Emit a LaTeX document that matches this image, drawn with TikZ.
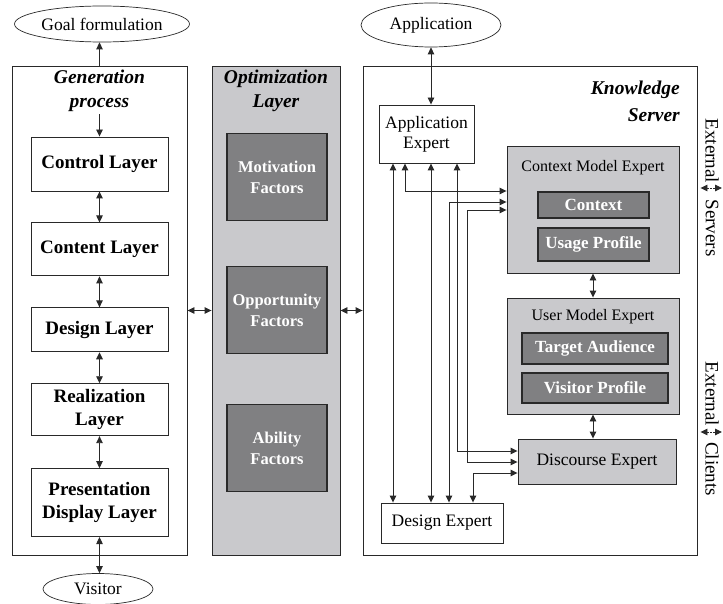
\documentclass[tikz,border=0pt]{standalone}
\usepackage{fontspec}
\setmainfont{Liberation Serif}
\usetikzlibrary{arrows.meta,positioning,shapes.geometric}
\definecolor{panelgrey}{rgb}{0.79,0.79,0.80}
\definecolor{factorgrey}{rgb}{0.50,0.50,0.51}
\definecolor{linegrey}{rgb}{0.16,0.16,0.16}
\tikzset{
  panel/.style={
    draw=linegrey,
    line width=.9pt,
    fill=white,
    minimum height=489pt,
    inner sep=0pt
  },
  heading/.style={
    align=center,
    inner sep=2pt,
    font=\fontsize{19.5}{24}\selectfont\bfseries\itshape
  },
  layer/.style={
    draw=linegrey,
    line width=.9pt,
    fill=white,
    minimum width=137pt,
    align=center,
    inner sep=2pt,
    font=\fontsize{19}{23}\selectfont\bfseries
  },
  factor/.style={
    draw=linegrey,
    line width=1.1pt,
    fill=factorgrey,
    text=white,
    minimum width=100pt,
    minimum height=87pt,
    align=center,
    font=\fontsize{16.5}{21}\selectfont\bfseries
  },
  expert/.style={
    draw=linegrey,
    line width=.9pt,
    fill=white,
    align=center,
    inner sep=2pt,
    font=\fontsize{17.5}{20}\selectfont
  },
  model/.style={
    expert,
    fill=panelgrey,
    minimum width=172pt
  },
  modeltitle/.style={
    inner sep=1pt,
    font=\fontsize{16}{19}\selectfont
  },
  item/.style={
    draw=linegrey,
    line width=1.1pt,
    fill=factorgrey,
    text=white,
    inner sep=0pt,
    font=\fontsize{17}{20}\selectfont\bfseries
  },
  outside/.style={
    ellipse,
    draw=linegrey,
    line width=.7pt,
    fill=white,
    inner sep=0pt,
    font=\fontsize{17.5}{20}\selectfont
  },
  extlabel/.style={
    rotate=-90,
    inner sep=0pt,
    font=\fontsize{19}{21}\selectfont
  },
  arrow/.style={
    -{Triangle[length=7pt,width=6.5pt]},
    line width=.9pt,
    linegrey
  },
  twoway/.style={
    {Triangle[length=7pt,width=6.5pt]}-{Triangle[length=7pt,width=6.5pt]},
    line width=.9pt,
    linegrey
  }
}
\begin{document}
\begin{tikzpicture}[x=1pt,y=1pt,node distance=31pt]
\useasboundingbox (0,0) rectangle (723,-604);
% generation process
\node[panel,minimum width=175pt] (gen) at (99.5,-310.5) {};
\node[heading] (gentitle) at (99.5,-91) {Generation\\process};
\node[layer,minimum height=54pt] (ctrl) at (99.5,-164) {Control Layer};
\node[layer,minimum height=53pt,below=of ctrl] (cont) {Content Layer};
\node[layer,minimum height=44pt,below=of cont] (desl) {Design Layer};
\node[layer,minimum height=52pt,below=of desl] (real) {Realization\\Layer};
\node[layer,minimum height=68pt,below=32pt of real] (pres) {Presentation\\Display Layer};
\node[outside,minimum width=175pt,minimum height=36pt] (goal) at (102,-24) {Goal formulation};
\node[outside,minimum width=110pt,minimum height=31pt] (visitor) at (98,-589) {Visitor};
% optimization layer
\node[panel,fill=panelgrey,minimum width=128pt] (opt) at (276,-310.5) {};
\node[heading] (opttitle) at (276,-91) {Optimization\\Layer};
\node[factor] (motiv) at (277,-177) {Motivation\\Factors};
\node[factor] (oppo) at (277,-310) {Opportunity\\Factors};
\node[factor] (abil) at (277,-448) {Ability\\Factors};
% knowledge server
\node[panel,minimum width=334pt] (ks) at (530,-310.5) {};
\node[heading,align=right,anchor=east,font=\fontsize{19.5}{27}\selectfont\bfseries\itshape] (kstitle) at (682,-101) {Knowledge\\Server};
\node[outside,minimum width=140pt,minimum height=44pt] (appell) at (431,-25) {Application};
\node[expert,minimum width=95pt,minimum height=58pt] (appx) at (426.5,-134) {Application\\Expert};
\node[model,minimum height=127pt] (ctx) at (593,-209.5) {};
\node[modeltitle] (ctxtitle) at (593,-168) {Context Model Expert};
\node[item,minimum width=111pt,minimum height=26pt] (context) at (593.5,-205) {Context};
\node[item,minimum width=111pt,minimum height=33pt] (usage) at (593.5,-244.5) {Usage Profile};
\node[model,minimum height=116pt] (user) at (593,-356) {};
\node[modeltitle] (usertitle) at (593,-317) {User Model Expert};
\node[item,minimum width=146pt,minimum height=31pt] (target) at (595,-348.5) {Target Audience};
\node[item,minimum width=146pt,minimum height=30pt] (vprof) at (595,-388) {Visitor Profile};
\node[expert,fill=panelgrey,minimum width=158pt,minimum height=45pt] (disc) at (597,-461.5) {Discourse Expert};
\node[expert,minimum width=122pt,minimum height=40pt] (desx) at (442,-523) {Design Expert};
% external links
\node[extlabel] (ext1) at (712,-151) {External};
\node[extlabel] (srvlabel) at (712,-228) {Servers};
\node[extlabel] (ext2) at (712,-394) {External};
\node[extlabel] (clilabel) at (712,-469) {Clients};
\coordinate (srv) at (722,-188);
\coordinate (cli) at (722,-432);
% lanes and rows of the expert links
\coordinate (la) at (393,0);
\coordinate (lb) at (405,0);
\coordinate (lc) at (431,0);
\coordinate (ld) at (449,0);
\coordinate (le) at (457,0);
\coordinate (lf) at (467,0);
\coordinate (lg) at (473,0);
\coordinate (r1) at (0,-191);
\coordinate (r2) at (0,-202);
\coordinate (r3) at (0,-210);
\coordinate (r4) at (0,-451);
\coordinate (r5) at (0,-462);
\coordinate (r6) at (0,-473);

\draw[arrow] (gen.north) -- (gen.north |- goal.south);
\draw[arrow] (gentitle.south) -- (ctrl);
\draw[twoway] (ctrl) -- (cont);
\draw[twoway] (cont) -- (desl);
\draw[twoway] (desl) -- (real);
\draw[twoway] (real) -- (pres);
\draw[twoway] (pres.south) -- (pres.south |- visitor.north);
\draw[twoway] (gen) -- (opt);
\draw[twoway] (opt) -- (ks);
\draw[twoway] (appell.south) -- (appell.south |- appx.north);
\draw[twoway] (ctx) -- (user);
\draw[twoway] (user.south) -- (user.south |- disc.north);
\draw[twoway] (appx.south -| la) -- (desx.north -| la);
\draw[twoway] (appx.south -| lb) |- (ctx.west |- r1);
\draw[twoway] (appx.south -| lc) -- (desx.north -| lc);
\draw[twoway] (appx.south -| le) |- (disc.west |- r4);
\draw[twoway] (ctx.west |- r2) -| (desx.north -| ld);
\draw[twoway] (ctx.west |- r3) -| (lf |- r5) -- (disc.west |- r5);
\draw[twoway] (desx.north -| lg) |- (disc.west |- r6);
\draw[twoway,dash pattern=on 1.5pt off 1.5pt,shorten <=3pt] (ks.east |- srv) -- (srv);
\draw[twoway,dash pattern=on 1.5pt off 1.5pt,shorten <=3pt] (ks.east |- cli) -- (cli);
\end{tikzpicture}
\end{document}
